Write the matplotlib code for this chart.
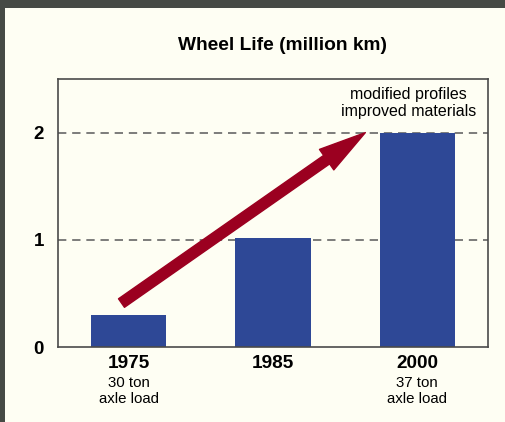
import matplotlib
matplotlib.use('Agg')
import matplotlib.pyplot as plt
from matplotlib.patches import Rectangle
from matplotlib.transforms import blended_transform_factory

years = ['1975', '1985', '2000']
wheel_life = [0.3, 1.02, 2.0]
sub_labels = ['30 ton\naxle load', '', '37 ton\naxle load']
note = 'modified profiles\nimproved materials'
y_ticks = [0, 1, 2]

plt.rcParams['font.family'] = ['Liberation Sans', 'DejaVu Sans']

fig = plt.figure(figsize=(5.05, 4.22), dpi=100, facecolor='#464a45')
# cream slide panel
fig.patches.append(Rectangle((5/505, 0), 1, (422-8)/422, transform=fig.transFigure,
                             facecolor='#fefef3', edgecolor='none', zorder=-10))

ax = fig.add_axes([58/505, 75/422, 430/505, 268/422])
ax.set_facecolor('#fefef3')

x = range(len(years))
ax.bar(x, wheel_life, width=0.52, color='#2e4896', zorder=2)

ax.set_xlim(-0.49, 2.49)
ax.set_ylim(0, 2.5)

for v in [1, 2]:
    ax.axhline(v, color='#666666', lw=1.2, ls=(0, (5, 3.5)), zorder=1)

for s in ax.spines.values():
    s.set_color('#4a4a4a')
    s.set_linewidth(1.2)

ax.set_yticks(y_ticks)
ax.set_yticklabels([str(t) for t in y_ticks], fontsize=13.5, fontweight='bold')
ax.tick_params(axis='y', length=0, pad=10)
ax.set_xticks(list(x))
ax.set_xticklabels(years, fontsize=13.7, fontweight='bold')
ax.tick_params(axis='x', length=0, pad=6)

trans = blended_transform_factory(ax.transData, ax.transAxes)
for i, lab in enumerate(sub_labels):
    if lab:
        ax.text(i, -0.108, lab, transform=trans, ha='center', va='top',
                fontsize=10.8, linespacing=1.22)

ax.annotate('', xy=(1.64, 2.0), xytext=(-0.05, 0.41),
            arrowprops=dict(arrowstyle='simple,head_length=34,head_width=18,tail_width=7.5',
                            mutation_scale=1, color='#9b0020', shrinkA=0, shrinkB=0),
            zorder=3)

ax.text(1.94, 2.28, note, ha='center', va='center', fontsize=11.5, linespacing=1.18)

fig.text(282/505, 1 - 45/422, 'Wheel Life (million km)', ha='center', va='center',
         fontsize=13.8, fontweight='bold')

plt.savefig('out.png', dpi=100, facecolor=fig.get_facecolor())
